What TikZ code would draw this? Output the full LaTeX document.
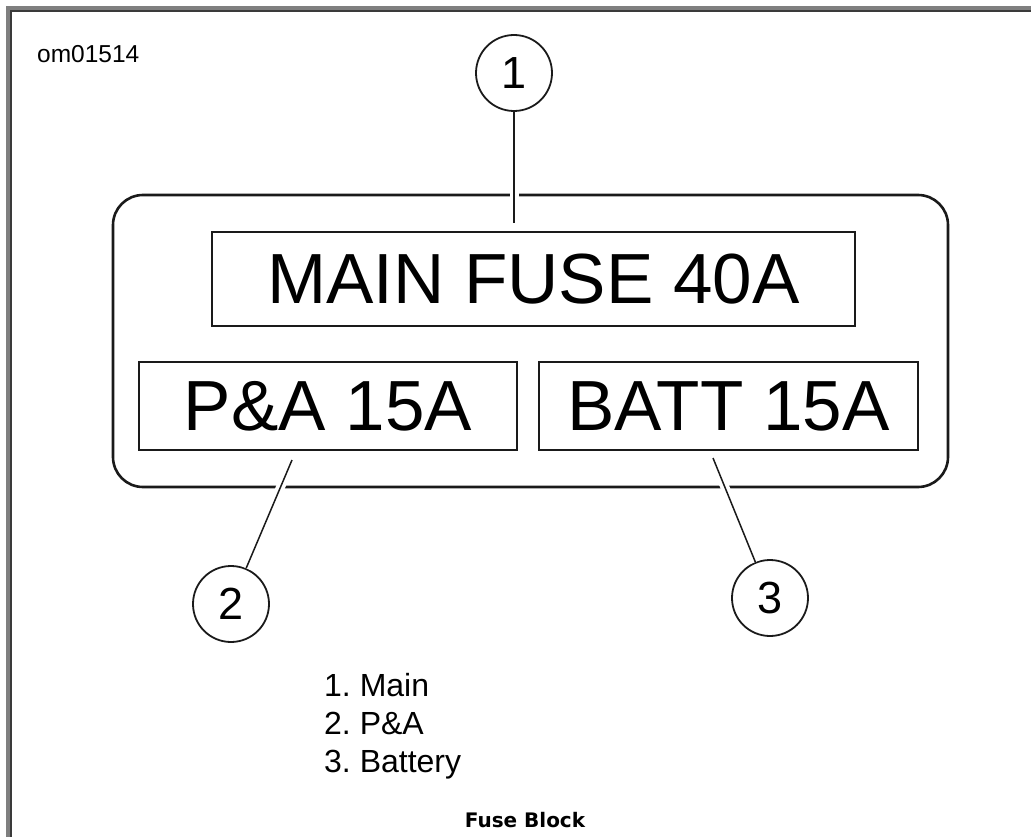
\documentclass[tikz,border=0pt]{standalone}
\usepackage{fontspec}
\setmainfont{Liberation Sans}
\newfontfamily\captionfont{DejaVu Sans}
\usepackage{tikz}
\usetikzlibrary{positioning}
\usepackage{xcolor}
\definecolor{framegray}{HTML}{7F7F7F}
\definecolor{framedark}{HTML}{3A3A3A}
\definecolor{inkblack}{HTML}{1A1A1A}
\frenchspacing

\tikzset{
  fusebox/.style={draw=inkblack, line width=2.6pt, inner sep=0pt, font=\fontsize{71pt}{71pt}\selectfont},
  callout/.style={draw=inkblack, circle, line width=1.8pt, minimum size=76pt, inner sep=0pt, font=\fontsize{45pt}{45pt}\selectfont},
  leader/.style={draw=inkblack, line width=1.5pt, preaction={draw=white, line width=9pt}},
  legenditem/.style={anchor=base west, inner sep=0pt, font=\fontsize{32pt}{38pt}\selectfont}
}

\begin{document}
\begin{tikzpicture}[x=1pt, y=-1pt]
\useasboundingbox (0,0) rectangle (1031,837);
% page frame
\fill[framegray] (6,6) rectangle (1031,10);
\fill[framegray] (6,6) rectangle (10,837);
\fill[framedark] (10,10) rectangle (1031,12);
\fill[framedark] (10,10) rectangle (12,837);

\node[anchor=base west, inner sep=0pt, font=\fontsize{24.5pt}{24.5pt}\selectfont] (figid) at (37,63) {om01514};

% fuse block
\node[draw=inkblack, line width=2.6pt, rounded corners=30pt, minimum width=835pt, minimum height=292pt] (block) at (530.5,341) {};
\node[fusebox, minimum width=643pt, minimum height=94pt] (mainfuse) at (533.5,279) {MAIN FUSE 40A};
\node[fusebox, minimum width=378pt, minimum height=88pt] (pafuse) at (328,406) {P\&A 15A};
\node[fusebox, minimum width=379pt, minimum height=88pt] (battfuse) at (728.5,406) {BATT 15A};

% leader ends
\coordinate (mainpin) at (514,223);
\coordinate (papin) at (292,460);
\coordinate (battpin) at (713,458);

% callouts
\node[callout] (c1) at (514,73) {1};
\node[callout] (c2) at (231,604) {2};
\node[callout] (c3) at (770,598) {3};

\draw[leader, preaction={shorten <=5pt}] (c1) -- (mainpin);
\draw[leader, preaction={shorten >=5pt}] (papin) -- (c2);
\draw[leader, preaction={shorten >=5pt}] (battpin) -- (c3);

% legend
\node[legenditem] (item1) at (324,696) {1. Main};
\node[legenditem] (item2) at (324,734) {2. P\&A};
\node[legenditem] (item3) at (324,772) {3. Battery};

\node[anchor=base, inner sep=0pt, font=\captionfont\bfseries\fontsize{20pt}{20pt}\selectfont] (caption) at (525,827) {Fuse Block};
\end{tikzpicture}
\end{document}
